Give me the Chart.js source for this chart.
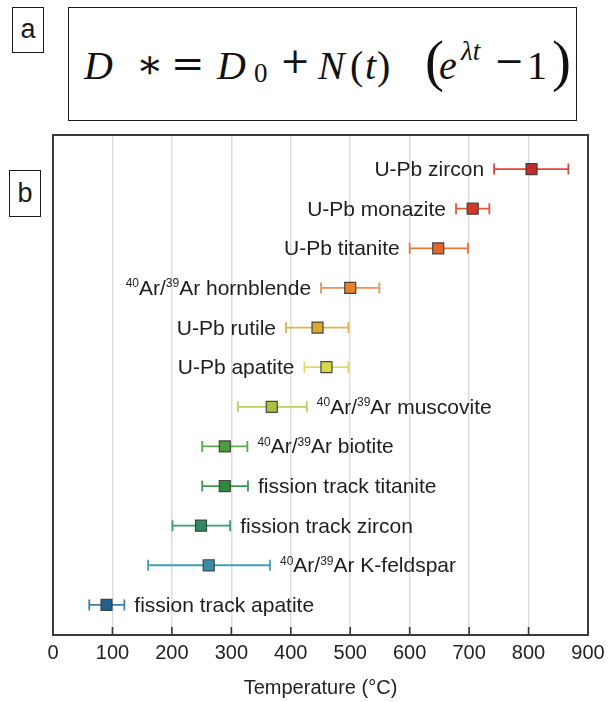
<!DOCTYPE html>
<html>
<head>
<meta charset="utf-8">
<script src="https://cdn.jsdelivr.net/npm/chart.js@4.4.1/dist/chart.umd.min.js"></script>
<style>
  html, body { margin:0; padding:0; background:#fff; }
  body { width:609px; height:702px; position:relative; overflow:hidden; }
  #chart { position:absolute; left:0; top:0; }
  .tag { position:absolute; box-sizing:border-box; border:1.5px solid #1a1a1a; background:#fff;
         font-family:'Liberation Sans', Arial, sans-serif; color:#1a1a1a; text-align:center; }
  #tagA { left:12px; top:7px; width:32px; height:46px; font-size:27px; line-height:42px; }
  #tagB { left:9px; top:170px; width:32px; height:47px; font-size:27px; line-height:44px; }
  #eqbox { position:absolute; box-sizing:border-box; left:68px; top:7px; width:509px; height:114px;
           border:1.5px solid #1a1a1a; background:#fff; }
  #eq span { position:absolute; white-space:nowrap; line-height:1; color:#111;
             font-family:'Liberation Serif', 'DejaVu Serif', serif; }
  #eq .it { font-style:italic; }
  #eq .op { font-family:'DejaVu Serif', 'Liberation Serif', serif; }
</style>
</head>
<body>
<canvas id="chart" width="609" height="702"></canvas>
<div class="tag" id="tagA">a</div>
<div id="eqbox"></div>
<div id="eq">
  <span class="it" style="left:84px;top:45.5px;font-size:40px">D</span>
  <span class="op" style="left:136px;top:44px;font-size:40px">∗</span>
  <span class="op" style="left:171px;top:43px;font-size:40px">=</span>
  <span class="it" style="left:217px;top:45.5px;font-size:40px">D</span>
  <span style="left:254px;top:60px;font-size:27px">0</span>
  <span class="op" style="left:280px;top:43px;font-size:36px">+</span>
  <span class="it" style="left:318px;top:45.5px;font-size:40px">N</span>
  <span style="left:350px;top:45.5px;font-size:40px">(</span>
  <span class="it" style="left:365px;top:45.5px;font-size:40px">t</span>
  <span style="left:377px;top:45.5px;font-size:40px">)</span>
  <span style="left:425px;top:32px;font-size:57px">(</span>
  <span class="it" style="left:439px;top:45.5px;font-size:40px">e</span>
  <span class="it" style="left:461px;top:37.5px;font-size:27px">λt</span>
  <span class="op" style="left:494px;top:43px;font-size:36px">−</span>
  <span style="left:527px;top:45.5px;font-size:40px">1</span>
  <span style="left:552px;top:32px;font-size:57px">)</span>
</div>
<div class="tag" id="tagB">b</div>
<script>
// ---- data ----
const categories = [
  "U-Pb zircon",
  "U-Pb monazite",
  "U-Pb titanite",
  "⁴⁰Ar/³⁹Ar hornblende",
  "U-Pb rutile",
  "U-Pb apatite",
  "⁴⁰Ar/³⁹Ar muscovite",
  "⁴⁰Ar/³⁹Ar biotite",
  "fission track titanite",
  "fission track zircon",
  "⁴⁰Ar/³⁹Ar K-feldspar",
  "fission track apatite"
];
const temperature = [805, 706, 648, 500, 445, 460, 368, 289, 289, 249, 262, 90];
const tempLow     = [742, 678, 600, 451, 392, 423, 311, 251, 251, 201, 160, 61];
const tempHigh    = [867, 734, 698, 549, 497, 497, 427, 327, 328, 298, 365, 120];
const labelSide   = ["left","left","left","left","left","left","right","right","right","right","right","right"];
const xTickValues = [0, 100, 200, 300, 400, 500, 600, 700, 800, 900];
const xTitle = "Temperature (°C)";

// ---- styles ----
const fillColors = ["#c42b2a","#d23a28","#df672d","#e3822f","#d5a934","#d8d84c","#a6c441","#4e9a3f","#2e8a3f","#2e8a63","#3590a5","#24628d"];
const barColors  = ["#de4547","#e2573f","#e6763c","#ec9350","#dcb44a","#dcdc62","#b4d25e","#5aab4d","#3d9b4e","#3d9a75","#42a0b4","#3a80b0"];

const SUP = {'⁰':'0','¹':'1','²':'2','³':'3','⁴':'4','⁵':'5','⁶':'6','⁷':'7','⁸':'8','⁹':'9'};
function textRuns(s) {
  const out = [];
  for (const ch of s) {
    const sup = Object.prototype.hasOwnProperty.call(SUP, ch);
    const t = sup ? SUP[ch] : ch;
    const last = out[out.length - 1];
    if (last && last.sup === sup) last.t += t; else out.push({ t, sup });
  }
  return out;
}
const MAIN_FONT = "21px 'Liberation Sans', Arial, sans-serif";
const SUP_FONT = "12px 'Liberation Sans', Arial, sans-serif";

const decor = {
  id: 'decor',
  beforeDatasetsDraw(chart) {
    const { ctx, scales: { x, y } } = chart;
    ctx.save();
    ctx.lineWidth = 1.8;
    categories.forEach((c, i) => {
      const py = y.getPixelForValue(categories.length - i);
      const x0 = x.getPixelForValue(tempLow[i]);
      const x1 = x.getPixelForValue(tempHigh[i]);
      ctx.strokeStyle = barColors[i];
      ctx.beginPath();
      ctx.moveTo(x0, py); ctx.lineTo(x1, py);
      ctx.moveTo(x0, py - 5.5); ctx.lineTo(x0, py + 5.5);
      ctx.moveTo(x1, py - 5.5); ctx.lineTo(x1, py + 5.5);
      ctx.stroke();
    });
    ctx.restore();
  },
  afterDatasetsDraw(chart) {
    const { ctx, chartArea: a, scales: { x, y } } = chart;
    ctx.save();
    // labels
    ctx.fillStyle = '#1e1e1e';
    ctx.textBaseline = 'alphabetic';
    ctx.textAlign = 'left';
    categories.forEach((c, i) => {
      const py = y.getPixelForValue(categories.length - i);
      const runs = textRuns(c);
      let w = 0;
      runs.forEach(r => { ctx.font = r.sup ? SUP_FONT : MAIN_FONT; r.w = ctx.measureText(r.t).width; w += r.w; });
      let sx = labelSide[i] === 'left'
        ? x.getPixelForValue(tempLow[i]) - 10 - w
        : x.getPixelForValue(tempHigh[i]) + 10;
      const base = py + 7;
      runs.forEach(r => {
        ctx.font = r.sup ? SUP_FONT : MAIN_FONT;
        ctx.fillText(r.t, sx, r.sup ? base - 7.5 : base);
        sx += r.w;
      });
    });
    // inward ticks
    ctx.strokeStyle = '#333';
    ctx.lineWidth = 1.6;
    ctx.beginPath();
    xTickValues.forEach(v => {
      const px = x.getPixelForValue(v);
      ctx.moveTo(px, a.bottom); ctx.lineTo(px, a.bottom - 8);
    });
    ctx.stroke();
    // frame
    ctx.strokeStyle = '#3a3a3a';
    ctx.lineWidth = 2;
    ctx.strokeRect(a.left, a.top, a.right - a.left, a.bottom - a.top);
    ctx.restore();
  }
};

new Chart(document.getElementById('chart'), {
  type: 'scatter',
  data: {
    datasets: [{
      data: categories.map((c, i) => ({ x: temperature[i], y: categories.length - i })),
      pointStyle: 'rect',
      pointRadius: 7.8,
      pointHoverRadius: 7.8,
      backgroundColor: fillColors,
      borderColor: 'rgba(55,55,55,0.9)',
      borderWidth: 1.2
    }]
  },
  options: {
    responsive: false,
    animation: false,
    devicePixelRatio: 1,
    layout: { padding: { left: 53, top: 135, right: 21, bottom: 2 } },
    plugins: { legend: { display: false }, tooltip: { enabled: false } },
    scales: {
      x: {
        type: 'linear',
        min: xTickValues[0],
        max: xTickValues[xTickValues.length - 1],
        afterBuildTicks: (s) => { s.ticks = xTickValues.map(v => ({ value: v })); },
        ticks: { font: { family: "'Liberation Sans', Arial, sans-serif", size: 20, lineHeight: 1.4 }, color: '#222', padding: 4, maxRotation: 0 },
        grid: { color: '#dddddd', lineWidth: 1.5, drawTicks: false },
        border: { display: false },
        title: { display: true, text: xTitle, font: { family: "'Liberation Sans', Arial, sans-serif", size: 20 }, color: '#222', padding: { top: 5, bottom: 0 } }
      },
      y: {
        type: 'linear',
        display: false,
        min: 0.24,
        max: 12.86
      }
    }
  },
  plugins: [decor]
});
</script>
</body>
</html>
